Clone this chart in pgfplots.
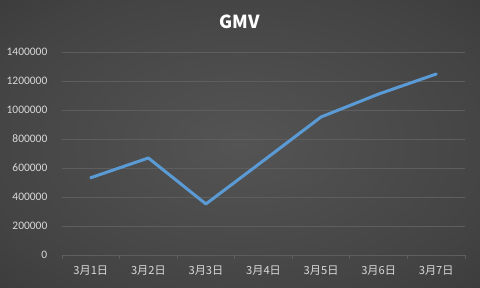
\documentclass[border=0pt]{standalone}
\usepackage{pgfplots}
\pgfplotsset{compat=1.18}
\usepackage{fontspec}
\setmainfont{Carlito}
\newfontfamily\cjk{Noto Sans CJK SC}
\definecolor{bgin}{HTML}{545454}
\definecolor{bgmid}{HTML}{434343}
\definecolor{bgedge}{HTML}{303030}
\definecolor{bgout}{HTML}{242424}
\definecolor{gridc}{HTML}{5E5E5E}
\definecolor{txt}{HTML}{D9D9D9}
\definecolor{lineblue}{HTML}{5B9BD5}
\pgfdeclareradialshading{bgshade}{\pgfpoint{0bp}{0bp}}{color(0bp)=(bgin); color(28bp)=(bgmid); color(50bp)=(bgedge); color(72bp)=(bgout)}
\begin{document}
\begin{tikzpicture}
\useasboundingbox (0,0) rectangle (480bp,288bp);
\shade[shading=bgshade] (0,0) rectangle (480bp,288bp);
\node[font=\cjk\bfseries\fontsize{18}{20}\selectfont, text=white] at (240bp,266bp) {GMV};
\begin{axis}[
  at={(62bp,33bp)}, anchor=south west,
  scale only axis, width=403bp, height=203bp,
  xmin=0.5, xmax=7.5, ymin=0, ymax=1400000,
  axis x line=bottom, axis y line=left,
  x axis line style={-, draw=gridc, line width=0.8bp},
  y axis line style={draw=none},
  xtick={0.5,1.5,...,7.5},
  x tick label as interval,
  xticklabels={3月1日,3月2日,3月3日,3月4日,3月5日,3月6日,3月7日},
  xtick style={draw=gridc, line width=0.8bp},
  tick align=outside,
  major tick length=3.5bp,
  ytick={0,200000,...,1400000},
  ytick style={draw=none},
  scaled y ticks=false,
  yticklabel style={/pgf/number format/fixed, /pgf/number format/1000 sep={}, /pgf/number format/assume math mode=true, anchor=east, inner sep=0pt, xshift=-11bp, text=txt, font=\fontsize{11.5}{12}\selectfont},
  xticklabel style={font=\cjk\fontsize{11.2}{12}\selectfont, text=txt, anchor=center, inner sep=0pt, yshift=-12bp},
  ymajorgrids,
  grid style={draw=gridc, line width=0.8bp},
  clip=false,
]
\addplot[lineblue, line width=3bp, line join=round, line cap=round, mark=none] coordinates {
  (1,533000) (2,669000) (3,352000) (4,651000) (5,952000) (6,1110000) (7,1248000)
};
\end{axis}
\end{tikzpicture}
\end{document}
